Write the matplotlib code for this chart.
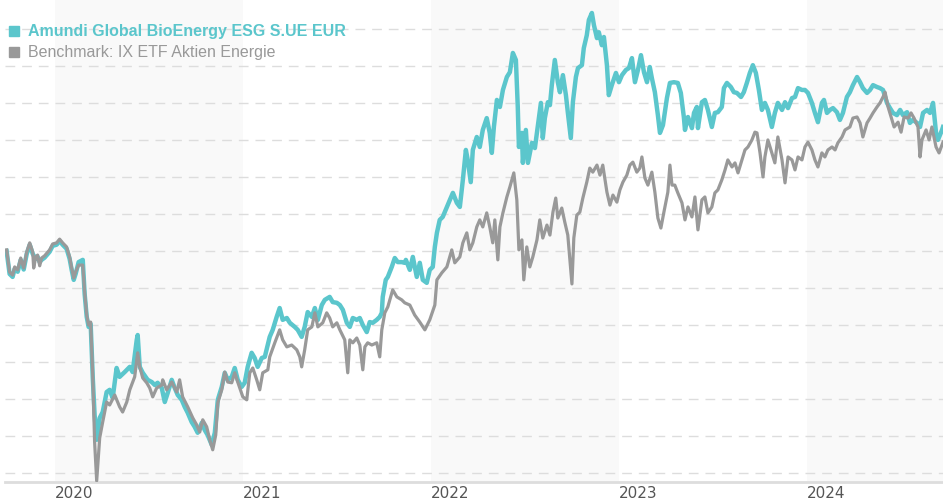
import matplotlib.pyplot as plt
from matplotlib.lines import Line2D

# ---------------------------------------------------------------
# Daten (Index, Start = 100; Zeitachse in Jahresbruchteilen)
# ---------------------------------------------------------------
fund_name = "Amundi Global BioEnergy ESG S.UE EUR"
bench_name = "Benchmark: IX ETF Aktien Energie"

year_ticks = [2020, 2021, 2022, 2023, 2024]
shaded_years = [2020, 2022, 2024]
grid_levels = [40, 50, 60, 70, 80, 90, 100, 110, 120, 130, 140, 150, 160]

fund_years = [
    2019.744, 2019.760, 2019.776, 2019.787, 2019.803, 2019.819, 2019.835, 2019.851,
    2019.867, 2019.883, 2019.899, 2019.909, 2019.920, 2019.930, 2019.946, 2019.973,
    2019.989, 2020.010, 2020.026, 2020.042, 2020.063, 2020.079, 2020.090, 2020.101,
    2020.111, 2020.127, 2020.149, 2020.159, 2020.170, 2020.180, 2020.191, 2020.202,
    2020.212, 2020.223, 2020.239, 2020.255, 2020.276, 2020.292, 2020.308, 2020.329,
    2020.345, 2020.372, 2020.399, 2020.414, 2020.436, 2020.441, 2020.452, 2020.468,
    2020.494, 2020.516, 2020.532, 2020.547, 2020.569, 2020.585, 2020.601, 2020.622,
    2020.638, 2020.654, 2020.675, 2020.691, 2020.707, 2020.728, 2020.744, 2020.760,
    2020.782, 2020.797, 2020.813, 2020.835, 2020.851, 2020.867, 2020.888, 2020.904,
    2020.920, 2020.941, 2020.957, 2020.973, 2020.994, 2021.010, 2021.026, 2021.047,
    2021.063, 2021.079, 2021.101, 2021.117, 2021.143, 2021.159, 2021.180, 2021.196,
    2021.212, 2021.234, 2021.250, 2021.276, 2021.292, 2021.313, 2021.329, 2021.345,
    2021.367, 2021.383, 2021.399, 2021.420, 2021.436, 2021.462, 2021.478, 2021.500,
    2021.516, 2021.532, 2021.553, 2021.569, 2021.585, 2021.606, 2021.622, 2021.638,
    2021.659, 2021.675, 2021.691, 2021.712, 2021.728, 2021.739, 2021.744, 2021.760,
    2021.771, 2021.792, 2021.808, 2021.824, 2021.845, 2021.861, 2021.867, 2021.888,
    2021.904, 2021.925, 2021.941, 2021.957, 2021.978, 2021.994, 2022.010, 2022.021,
    2022.032, 2022.047, 2022.063, 2022.085, 2022.101, 2022.117, 2022.138, 2022.154,
    2022.170, 2022.186, 2022.196, 2022.212, 2022.223, 2022.244, 2022.260, 2022.276,
    2022.297, 2022.313, 2022.324, 2022.335, 2022.351, 2022.367, 2022.383, 2022.404,
    2022.420, 2022.436, 2022.452, 2022.462, 2022.468, 2022.484, 2022.489, 2022.505,
    2022.516, 2022.537, 2022.553, 2022.569, 2022.585, 2022.595, 2022.606, 2022.622,
    2022.633, 2022.643, 2022.659, 2022.675, 2022.686, 2022.702, 2022.718, 2022.728,
    2022.744, 2022.755, 2022.771, 2022.782, 2022.803, 2022.813, 2022.829, 2022.840,
    2022.856, 2022.867, 2022.883, 2022.893, 2022.909, 2022.920, 2022.936, 2022.946,
    2022.962, 2022.984, 2023.000, 2023.016, 2023.037, 2023.053, 2023.069, 2023.085,
    2023.101, 2023.117, 2023.133, 2023.149, 2023.164, 2023.175, 2023.191, 2023.207,
    2023.218, 2023.234, 2023.255, 2023.271, 2023.292, 2023.313, 2023.329, 2023.345,
    2023.351, 2023.367, 2023.388, 2023.399, 2023.414, 2023.420, 2023.441, 2023.457,
    2023.473, 2023.494, 2023.510, 2023.526, 2023.547, 2023.558, 2023.574, 2023.595,
    2023.611, 2023.627, 2023.649, 2023.664, 2023.680, 2023.696, 2023.712, 2023.728,
    2023.744, 2023.760, 2023.776, 2023.792, 2023.813, 2023.829, 2023.845, 2023.867,
    2023.883, 2023.899, 2023.920, 2023.936, 2023.952, 2023.973, 2023.989, 2024.005,
    2024.026, 2024.042, 2024.058, 2024.079, 2024.090, 2024.106, 2024.122, 2024.138,
    2024.159, 2024.175, 2024.191, 2024.212, 2024.228, 2024.244, 2024.266, 2024.282,
    2024.297, 2024.319, 2024.335, 2024.351, 2024.372, 2024.388, 2024.404, 2024.425,
    2024.441, 2024.457, 2024.478, 2024.495, 2024.510, 2024.532, 2024.547, 2024.563,
    2024.585, 2024.601, 2024.617, 2024.638, 2024.654, 2024.670, 2024.686, 2024.696,
    2024.718, 2024.723,
]
fund_values = [
    100.0, 93.8, 93.0, 95.2, 94.4, 97.6, 95.0, 99.2,
    101.7, 99.2, 97.9, 98.4, 97.0, 97.6, 98.2, 99.8,
    101.4, 101.7, 102.7, 101.7, 100.6, 97.9, 94.9, 92.2,
    93.8, 97.0, 97.6, 88.4, 82.2, 79.5, 80.3, 66.0,
    55.7, 49.0, 54.9, 56.5, 61.9, 62.5, 60.3, 68.4,
    66.0, 67.3, 68.7, 67.3, 76.0, 77.3, 68.7, 67.1,
    65.2, 64.6, 63.8, 64.4, 63.0, 59.2, 61.7, 65.2,
    63.0, 61.1, 59.8, 57.9, 56.3, 53.8, 52.5, 50.9,
    53.6, 51.7, 50.3, 47.6, 50.9, 59.8, 63.3, 67.1,
    65.2, 66.0, 68.4, 65.2, 63.3, 64.4, 68.7, 72.5,
    71.1, 68.7, 71.1, 71.4, 76.8, 78.7, 82.2, 84.6,
    81.4, 81.9, 80.6, 79.5, 78.7, 76.8, 79.5, 83.5,
    82.2, 84.6, 81.4, 85.4, 86.8, 87.6, 86.2, 86.0,
    85.4, 84.1, 80.6, 79.5, 81.9, 81.4, 81.9, 80.0,
    78.1, 80.8, 80.6, 81.4, 82.2, 83.3, 87.6, 92.2,
    93.0, 95.7, 98.1, 97.0, 97.0, 96.8, 97.6, 94.9,
    98.4, 93.0, 96.8, 92.2, 91.4, 94.9, 95.7, 101.1,
    104.9, 108.4, 109.2, 111.9, 113.8, 115.7, 113.0, 111.9,
    119.2, 127.3, 124.6, 118.6, 127.3, 130.8, 128.1, 132.7,
    135.9, 131.9, 126.5, 133.5, 140.8, 138.9, 143.5, 147.0,
    148.3, 153.5, 151.6, 138.9, 128.1, 131.9, 123.8, 132.7,
    123.8, 129.2, 127.8, 134.0, 140.0, 130.5, 135.9, 140.2,
    139.4, 144.8, 151.6, 145.6, 142.9, 147.5, 142.1, 137.5,
    130.5, 140.2, 147.0, 149.4, 150.2, 154.8, 158.3, 162.4,
    164.3, 161.0, 157.5, 159.1, 155.6, 157.8, 150.2, 142.1,
    144.8, 148.1, 145.6, 147.5, 148.9, 149.4, 152.1, 145.6,
    148.9, 152.9, 148.3, 145.6, 149.7, 146.7, 142.9, 136.7,
    131.9, 134.0, 141.3, 145.4, 145.6, 145.4, 142.7, 136.2,
    132.7, 136.2, 133.2, 137.3, 138.9, 133.2, 140.2, 140.8,
    138.1, 133.5, 137.3, 137.5, 138.9, 144.0, 145.4, 144.3,
    142.9, 142.7, 141.6, 142.9, 145.4, 148.1, 150.2, 148.1,
    143.5, 138.1, 140.0, 138.1, 133.5, 137.3, 140.0, 138.1,
    140.2, 138.6, 141.3, 141.6, 144.0, 143.5, 143.5, 142.7,
    140.0, 137.3, 134.8, 140.0, 140.8, 137.3, 138.1, 138.6,
    137.5, 135.4, 137.3, 141.6, 142.9, 144.8, 147.0, 145.6,
    144.0, 142.7, 143.5, 144.8, 144.3, 144.0, 143.5, 140.0,
    138.6, 137.3, 136.7, 138.1, 136.7, 137.5, 134.6, 135.4,
    134.6, 133.5, 137.3, 138.1, 137.3, 140.0, 131.9, 130.0,
    132.7, 133.5,
]

bench_years = [
    2019.744, 2019.760, 2019.776, 2019.787, 2019.803, 2019.819, 2019.835, 2019.851,
    2019.867, 2019.883, 2019.888, 2019.899, 2019.909, 2019.920, 2019.930, 2019.946,
    2019.973, 2019.989, 2020.010, 2020.026, 2020.042, 2020.063, 2020.079, 2020.090,
    2020.101, 2020.111, 2020.127, 2020.149, 2020.159, 2020.170, 2020.180, 2020.191,
    2020.202, 2020.212, 2020.223, 2020.239, 2020.255, 2020.276, 2020.292, 2020.319,
    2020.345, 2020.361, 2020.383, 2020.399, 2020.425, 2020.441, 2020.452, 2020.468,
    2020.489, 2020.505, 2020.521, 2020.542, 2020.569, 2020.574, 2020.595, 2020.622,
    2020.649, 2020.664, 2020.680, 2020.707, 2020.734, 2020.755, 2020.771, 2020.787,
    2020.808, 2020.824, 2020.840, 2020.856, 2020.867, 2020.888, 2020.904, 2020.920,
    2020.941, 2020.957, 2020.973, 2021.000, 2021.021, 2021.037, 2021.053, 2021.074,
    2021.090, 2021.106, 2021.133, 2021.143, 2021.170, 2021.196, 2021.212, 2021.234,
    2021.260, 2021.287, 2021.303, 2021.313, 2021.329, 2021.345, 2021.367, 2021.383,
    2021.399, 2021.425, 2021.446, 2021.462, 2021.478, 2021.500, 2021.516, 2021.542,
    2021.558, 2021.569, 2021.585, 2021.606, 2021.622, 2021.638, 2021.649, 2021.664,
    2021.686, 2021.712, 2021.728, 2021.739, 2021.755, 2021.771, 2021.797, 2021.819,
    2021.845, 2021.861, 2021.888, 2021.914, 2021.941, 2021.968, 2021.994, 2022.021,
    2022.032, 2022.058, 2022.085, 2022.111, 2022.127, 2022.154, 2022.170, 2022.191,
    2022.207, 2022.223, 2022.244, 2022.260, 2022.276, 2022.297, 2022.313, 2022.329,
    2022.340, 2022.356, 2022.367, 2022.383, 2022.404, 2022.420, 2022.441, 2022.457,
    2022.468, 2022.484, 2022.494, 2022.510, 2022.526, 2022.542, 2022.564, 2022.579,
    2022.595, 2022.617, 2022.633, 2022.649, 2022.664, 2022.675, 2022.696, 2022.712,
    2022.728, 2022.750, 2022.760, 2022.776, 2022.792, 2022.808, 2022.829, 2022.845,
    2022.861, 2022.883, 2022.899, 2022.914, 2022.936, 2022.952, 2022.968, 2022.989,
    2023.005, 2023.021, 2023.042, 2023.058, 2023.074, 2023.095, 2023.111, 2023.122,
    2023.138, 2023.154, 2023.175, 2023.191, 2023.207, 2023.223, 2023.239, 2023.260,
    2023.271, 2023.282, 2023.297, 2023.313, 2023.335, 2023.351, 2023.367, 2023.388,
    2023.404, 2023.420, 2023.441, 2023.457, 2023.473, 2023.494, 2023.510, 2023.526,
    2023.547, 2023.564, 2023.579, 2023.601, 2023.617, 2023.633, 2023.654, 2023.670,
    2023.686, 2023.707, 2023.723, 2023.734, 2023.750, 2023.766, 2023.776, 2023.792,
    2023.813, 2023.829, 2023.845, 2023.867, 2023.883, 2023.899, 2023.920, 2023.936,
    2023.952, 2023.973, 2023.989, 2024.005, 2024.026, 2024.042, 2024.058, 2024.079,
    2024.095, 2024.111, 2024.133, 2024.149, 2024.164, 2024.186, 2024.202, 2024.228,
    2024.244, 2024.266, 2024.282, 2024.297, 2024.319, 2024.335, 2024.351, 2024.372,
    2024.388, 2024.404, 2024.415, 2024.431, 2024.447, 2024.463, 2024.484, 2024.500,
    2024.516, 2024.537, 2024.553, 2024.569, 2024.590, 2024.601, 2024.611, 2024.633,
    2024.649, 2024.664, 2024.686, 2024.702, 2024.723,
]
bench_values = [
    100.3, 94.3, 93.5, 95.7, 94.9, 98.1, 95.4, 99.7,
    102.2, 99.7, 95.4, 98.4, 98.9, 96.0, 98.1, 98.7,
    100.3, 101.9, 102.2, 103.2, 102.2, 101.1, 98.4, 95.4,
    92.7, 94.3, 96.2, 96.2, 88.9, 82.7, 80.0, 80.8,
    66.5, 48.4, 37.9, 49.5, 53.8, 59.2, 58.4, 61.1,
    57.9, 56.5, 59.2, 62.5, 66.0, 72.5, 68.7, 65.7,
    64.4, 63.0, 60.6, 63.0, 63.8, 65.2, 62.5, 64.6,
    61.9, 65.2, 60.6, 57.9, 54.9, 53.0, 51.1, 54.4,
    52.5, 49.0, 46.3, 50.3, 59.0, 62.5, 67.3, 64.6,
    64.4, 67.1, 64.6, 60.6, 59.8, 67.1, 68.4, 65.2,
    62.5, 67.1, 67.9, 71.4, 75.2, 78.7, 76.0, 74.1,
    74.6, 73.3, 71.4, 68.7, 73.3, 78.7, 79.5, 83.3,
    79.5, 80.6, 83.3, 81.9, 79.5, 80.6, 78.7, 76.0,
    67.1, 76.0, 75.2, 76.5, 74.6, 67.9, 74.1, 75.2,
    74.6, 75.2, 71.4, 78.7, 83.3, 84.9, 89.5, 87.6,
    86.8, 86.0, 85.4, 82.7, 80.8, 78.7, 81.4, 85.4,
    92.2, 94.1, 95.7, 100.3, 96.8, 98.4, 102.2, 104.9,
    100.3, 102.2, 106.5, 108.4, 106.5, 110.3, 106.5, 102.2,
    108.4, 97.6, 106.5, 110.3, 114.6, 117.3, 121.1, 113.8,
    100.3, 103.0, 92.2, 101.1, 95.7, 98.4, 103.0, 108.4,
    103.5, 107.0, 104.3, 110.5, 114.3, 108.9, 111.6, 107.8,
    104.3, 91.1, 103.5, 109.7, 110.5, 114.3, 118.6, 122.4,
    121.3, 123.2, 120.5, 123.2, 115.9, 112.4, 115.1, 113.2,
    116.5, 118.6, 120.5, 123.2, 124.0, 121.3, 122.4, 125.4,
    119.7, 117.8, 121.3, 115.9, 108.9, 106.2, 110.5, 115.9,
    123.2, 117.8, 117.8, 115.7, 113.0, 108.4, 111.9, 109.2,
    114.6, 105.7, 113.8, 114.6, 110.3, 111.9, 115.7, 116.5,
    119.2, 121.9, 124.6, 122.7, 123.8, 121.1, 124.6, 127.3,
    128.1, 130.0, 132.1, 131.9, 126.5, 120.0, 125.4, 130.0,
    126.5, 123.8, 130.8, 124.6, 118.4, 125.4, 124.6, 121.9,
    125.4, 124.6, 128.1, 129.4, 127.3, 124.6, 122.7, 126.5,
    125.4, 127.3, 128.1, 127.3, 129.2, 130.8, 132.7, 133.5,
    135.9, 136.2, 134.6, 130.8, 134.6, 135.9, 137.3, 138.9,
    140.0, 141.6, 142.9, 138.9, 136.2, 133.5, 134.8, 132.1,
    136.2, 135.9, 137.3, 135.9, 133.5, 125.4, 130.0, 132.7,
    130.0, 133.5, 128.1, 126.5, 129.4,
]

# ---------------------------------------------------------------
# Farben
# ---------------------------------------------------------------
TEAL = "#5bc6cc"
GRAY = "#999999"

fig = plt.figure(figsize=(9.43, 5.0), dpi=100)
ax = fig.add_axes([0.005, 0.036, 0.995, 0.964])

# Jahresbaender
for jahr in shaded_years:
    ax.axvspan(jahr, jahr + 1, color="#f9f9f9", lw=0, zorder=0)

ax.plot(fund_years, fund_values, color=TEAL, lw=3.2, zorder=3,
        solid_joinstyle="round")
ax.plot(bench_years, bench_values, color=GRAY, lw=2.3, zorder=4,
        solid_joinstyle="round")

ax.set_xlim(2019.734, 2024.723)
ax.set_ylim(37.6, 167.8)

ax.set_yticks(grid_levels)
ax.grid(axis="y", color="#dddddd", lw=1, linestyle=(0, (7, 5)), zorder=1)
ax.set_axisbelow(True)

ax.set_xticks(year_ticks)
ax.set_xticklabels([str(j) for j in year_ticks],
                   family=["Liberation Sans Narrow", "DejaVu Sans"],
                   fontsize=11, color="#555555", ha="left")
ax.tick_params(axis="x", length=0, pad=3)
ax.tick_params(axis="y", left=False, labelleft=False)

for lado in ["top", "left", "right"]:
    ax.spines[lado].set_visible(False)
ax.spines["bottom"].set_color("#dddddd")
ax.spines["bottom"].set_linewidth(2)

# Legende
handles = [
    Line2D([], [], ls="", marker="s", ms=6.5, color=TEAL),
    Line2D([], [], ls="", marker="s", ms=6.5, color=GRAY),
]
leg = ax.legend(handles, [fund_name, bench_name], loc="upper left",
                bbox_to_anchor=(0.0053, 0.950), frameon=False,
                prop={"family": "Liberation Sans", "size": 11.5},
                handlelength=0.6, handletextpad=0.55, labelspacing=0.40,
                borderaxespad=0, borderpad=0)
for txt, c in zip(leg.get_texts(), [TEAL, GRAY]):
    txt.set_color(c)
leg.get_texts()[0].set_fontweight("bold")

fig.savefig("out.png", dpi=100)
